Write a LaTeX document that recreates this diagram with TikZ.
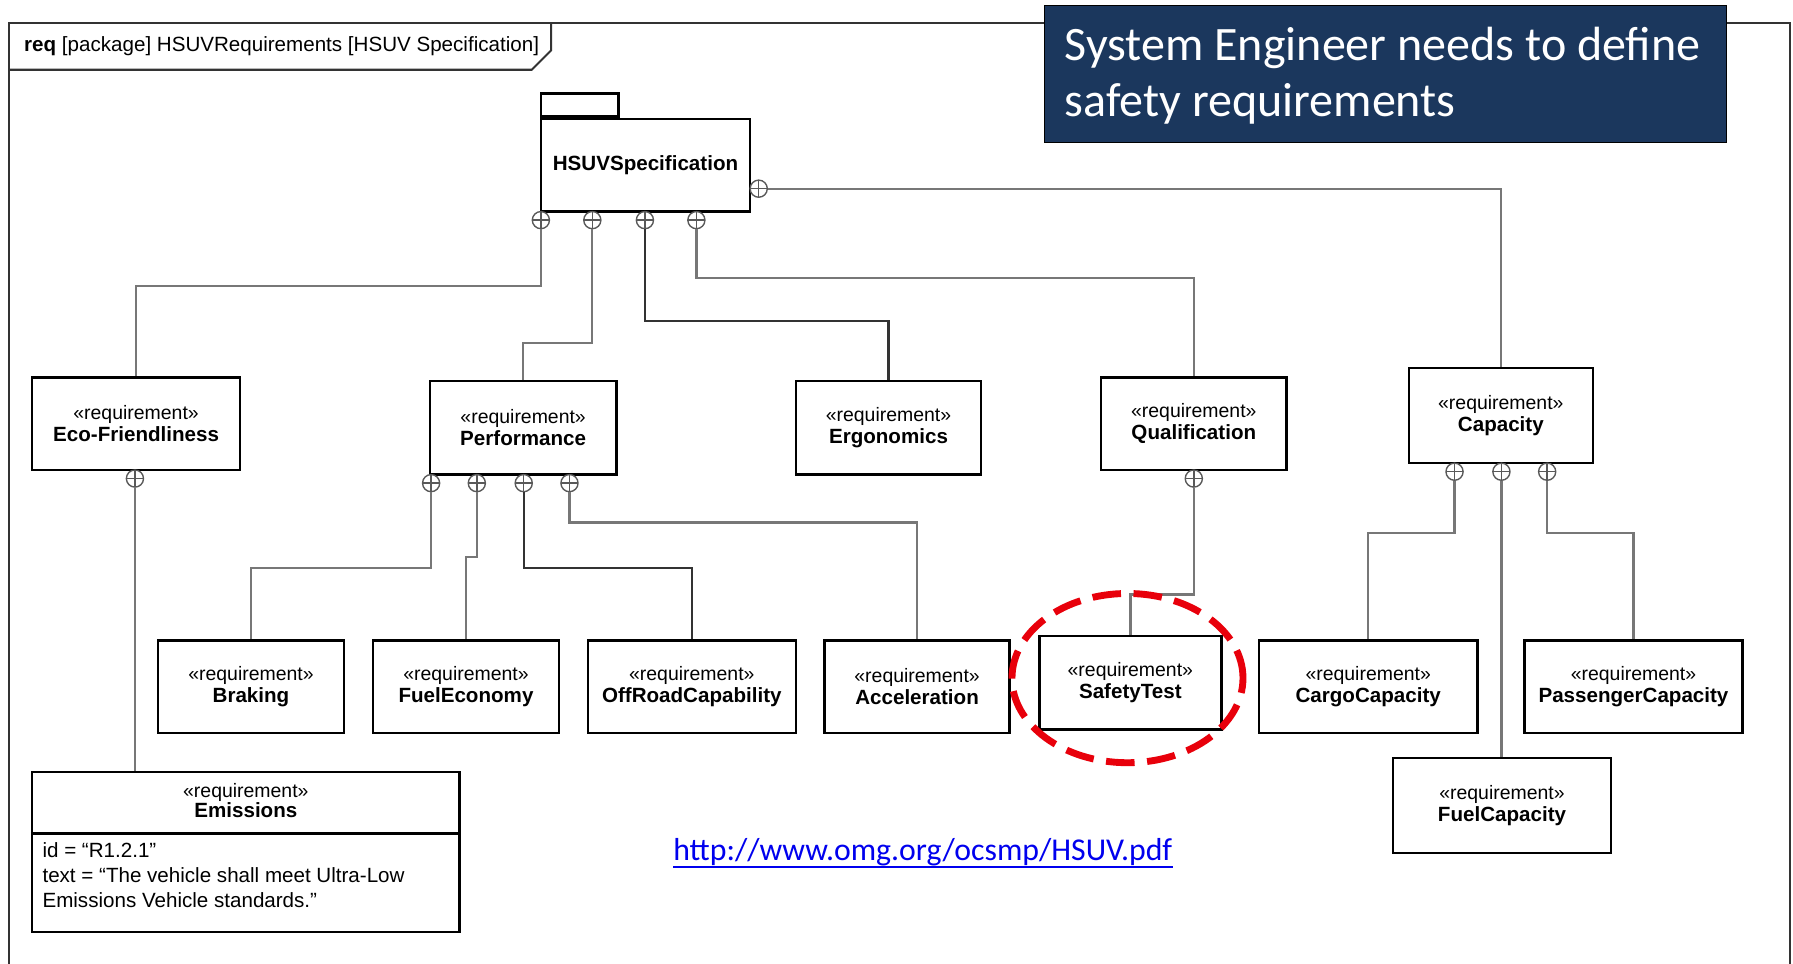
\documentclass[tikz,border=0pt]{standalone}
\usepackage{fontspec}
\setmainfont{Liberation Sans}
\newfontfamily\calib{Carlito}
\usetikzlibrary{calc}
\definecolor{navy}{HTML}{1B375D}
\definecolor{conngray}{HTML}{777777}
\definecolor{conndark}{HTML}{333333}
\definecolor{hired}{HTML}{E8000B}
\definecolor{linkblue}{HTML}{0000EE}
\tikzset{
  reqbox/.style={draw=black, line width=2.2pt, fill=white, align=center, inner sep=0pt,
    font=\fontsize{18}{19.5}\selectfont},
  conn/.style={draw=conngray, line width=2pt},
  conndk/.style={draw=conndark, line width=2pt},
  port/.style={circle, draw=black!65, line width=1.2pt, minimum size=15pt, inner sep=0pt, fill=white,
    path picture={\draw[black!65, line width=1.2pt]
      (path picture bounding box.north) -- (path picture bounding box.south)
      (path picture bounding box.west) -- (path picture bounding box.east);}},
  framepen/.style={draw=black!80, line width=1.8pt},
}
\newcommand{\reqtext}[1]{{\fontsize{17}{19.5}\selectfont «requirement»}\\\textbf{#1}}
\begin{document}
\begin{tikzpicture}[x=1pt, y=-1pt]
\useasboundingbox (0,0) rectangle (1568,843);
\fill[white] (0,0) rectangle (1568,843);
% frame
\draw[framepen] (8,843) -- (8,20) -- (1565,20) -- (1565,843);
\draw[framepen] (482,20) -- (482,44) -- (465,61) -- (8,61);
\node[anchor=west, font=\fontsize{18}{18}\selectfont, inner sep=0pt] (title) at (21,40)
  {\textbf{req} [package] HSUVRequirements [HSUV Specification]};
% note
\node[fill=navy, draw=black, line width=1pt, anchor=north west, minimum width=596pt,
  minimum height=120pt, inner sep=0pt] (note) at (913,4) {};
\node[anchor=west, align=left, inner xsep=18pt, inner ysep=0pt,
  font=\calib\fontsize{42}{49}\selectfont, text=white] (notetext) at ([yshift=-2pt]note.west)
  {System Engineer needs to define\\safety requirements};
% HSUVSpecification
\node[reqbox, minimum width=183pt, minimum height=81pt] (hsuv) at (564.5,144.5) {\textbf{HSUVSpecification}};
\node[draw=black, line width=2.2pt, minimum width=68pt, minimum height=20pt, inner sep=0pt,
  anchor=south west] (hsuvtab) at (hsuv.north west) {};
% requirements
\node[reqbox, minimum width=182pt, minimum height=81pt] (eco)  at (119,370.5) {\reqtext{Eco-Friendliness}};
\node[reqbox, minimum width=163pt, minimum height=82pt] (perf) at (457.5,374) {\reqtext{Performance}};
\node[reqbox, minimum width=162pt, minimum height=82pt] (ergo) at (777,374) {\reqtext{Ergonomics}};
\node[reqbox, minimum width=162pt, minimum height=81pt] (qual) at (1044,370.5) {\reqtext{Qualification}};
\node[reqbox, minimum width=161pt, minimum height=83pt] (cap)  at (1312.5,363.5) {\reqtext{Capacity}};
\node[reqbox, minimum width=163pt, minimum height=81pt] (brak) at (219.5,600.5) {\reqtext{Braking}};
\node[reqbox, minimum width=163pt, minimum height=81pt] (fuel) at (407.5,600.5) {\reqtext{FuelEconomy}};
\node[reqbox, minimum width=182pt, minimum height=81pt] (off)  at (605,600.5) {\reqtext{OffRoadCapability}};
\node[reqbox, minimum width=162pt, minimum height=81pt] (acc)  at (802,600.5) {\reqtext{Acceleration}};
\node[reqbox, minimum width=159pt, minimum height=82pt] (safe) at (988.5,597) {\reqtext{SafetyTest}};
\node[reqbox, minimum width=191pt, minimum height=81pt] (cargo) at (1196.5,600.5) {\reqtext{CargoCapacity}};
\node[reqbox, minimum width=191pt, minimum height=81pt] (pass) at (1428.5,600.5) {\reqtext{PassengerCapacity}};
\node[reqbox, minimum width=191pt, minimum height=83pt] (fcap) at (1313.5,704.5) {\reqtext{FuelCapacity}};
% Emissions
\node[reqbox, minimum width=374pt, minimum height=140pt] (emis) at (215,745) {};
\draw[black, line width=2.2pt] (emis.west |- 0,729) -- (emis.east |- 0,729);
\node[align=center, font=\fontsize{18}{17}\selectfont, inner sep=0pt] (emistitle) at (215,700) {\reqtext{Emissions}};
\node[anchor=north west, align=left, inner sep=0pt, font=\fontsize{18}{21.5}\selectfont] (emisbody) at (37,737)
  {id = “R1.2.1”\\text = “The vehicle shall meet Ultra-Low\\Emissions Vehicle standards.”};
% ports
\node[port] (hp1) at (473,192.5) {};
\node[port] (hp2) at (518,192.5) {};
\node[port] (hp3) at (564,192.5) {};
\node[port] (hp4) at (609,192.5) {};
\node[port] (hpr) at (663.5,165) {};
\node[port] (ep)  at (118,418.5) {};
\node[port] (pp1) at (377,422.5) {};
\node[port] (pp2) at (417,422.5) {};
\node[port] (pp3) at (458,422.5) {};
\node[port] (pp4) at (498,422.5) {};
\node[port] (qp)  at (1044,418.5) {};
\node[port] (cp1) at (1272,412.5) {};
\node[port] (cp2) at (1313,412.5) {};
\node[port] (cp3) at (1353,412.5) {};
% connectors
\draw[conn] (hp1.south) -- (hp1.south |- 0,250) -| (eco.north);
\draw[conn] (hp2.south) -- (hp2.south |- 0,300) -| (perf.north);
\draw[conndk] (hp3.south) -- (hp3.south |- 0,281) -| (ergo.north);
\draw[conn] (hp4.south) -- (hp4.south |- 0,243) -| (qual.north);
\draw[conn] (hpr.east) -| (cap.north);
\draw[conn] (ep.south) -- (ep.south |- emis.north);
\draw[conn] (pp1.south) -- (pp1.south |- 0,497) -| (brak.north);
\draw[conn] (pp2.south) -- (pp2.south |- 0,487) -| (fuel.north);
\draw[conndk] (pp3.south) -- (pp3.south |- 0,497) -| (off.north);
\draw[conn] (pp4.south) -- (pp4.south |- 0,457) -| (acc.north);
\draw[conn] (qp.south) -- (qp.south |- 0,520) -| (safe.north);
\draw[conn] (cp1.south) -- (cp1.south |- 0,466) -| (cargo.north);
\draw[conn] (cp2.south) -- (cp2.south |- fcap.north);
\draw[conn] (cp3.south) -- (cp3.south |- 0,466) -| (pass.north);
% link
\node[text=linkblue, font=\calib\fontsize{27.8}{30}\selectfont, inner sep=0pt] (link) at (807,745)
  {http://www.omg.org/ocsmp/HSUV.pdf};
\draw[linkblue, line width=2pt] ([yshift=-1pt]link.south west) -- ([yshift=-1pt]link.south east);
% highlight
\draw[hired, line width=6pt, dash pattern=on 25pt off 11pt] (986,593) ellipse [x radius=101pt, y radius=74pt];
\end{tikzpicture}
\end{document}
